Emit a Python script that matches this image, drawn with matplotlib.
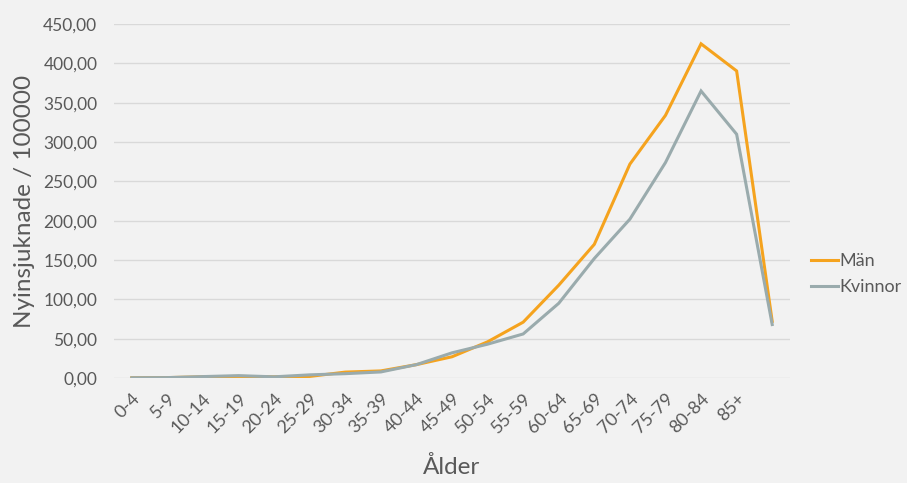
import matplotlib
matplotlib.use("Agg")
import matplotlib.pyplot as plt
from matplotlib.ticker import FuncFormatter, MultipleLocator

# Incidence per 100 000 by age group
age_groups = ["0-4", "5-9", "10-14", "15-19", "20-24", "25-29", "30-34", "35-39",
              "40-44", "45-49", "50-54", "55-59", "60-64", "65-69", "70-74",
              "75-79", "80-84", "85+", ""]
man = [0.3, 0.5, 1.5, 2.0, 1.5, 2.0, 7.5, 9.0, 17.0, 27.0, 46.0, 71.0, 118.0,
       170.0, 272.0, 334.0, 425.0, 390.5, 72.0]
kvinnor = [0.3, 0.5, 1.8, 3.0, 1.5, 4.0, 5.5, 7.7, 17.0, 32.0, 43.0, 56.0, 95.0,
           152.0, 202.0, 274.0, 365.0, 310.0, 68.0]

text_color = "#595959"
bg = "#f2f2f2"
font = ["Lato", "DejaVu Sans"]
plt.rcParams["font.family"] = font

fig = plt.figure(figsize=(9.07, 4.83), dpi=100, facecolor=bg)
ax = fig.add_axes([0.1257, 0.2174, 0.7453, 0.7326], facecolor=bg)

x = list(range(len(age_groups)))
ax.plot(x, man, color="#F5A31E", lw=2.2, label="Män", solid_joinstyle="miter")
ax.plot(x, kvinnor, color="#9AABAD", lw=2.2, label="Kvinnor", solid_joinstyle="miter")

ax.set_xlim(-0.5, len(age_groups) - 0.5)
ax.set_ylim(0, 450)
ax.yaxis.set_major_locator(MultipleLocator(50))
ax.yaxis.set_major_formatter(FuncFormatter(lambda v, p: f"{v:.2f}".replace(".", ",")))
ax.grid(axis="y", color="#d9d9d9", lw=1)
ax.set_axisbelow(True)
for s in ax.spines.values():
    s.set_visible(False)

ax.set_xticks(x)
ax.set_xticklabels(age_groups, rotation=45, ha="right", va="top",
                   rotation_mode="anchor", fontsize=13, color=text_color)
ax.tick_params(axis="both", length=0, colors=text_color)
ax.tick_params(axis="y", labelsize=12.5, pad=12)
ax.tick_params(axis="x", pad=9)

ax.set_ylabel("Nyinsjuknade / 100000", fontsize=17.5, color=text_color, labelpad=6)
ax.set_xlabel("Ålder", fontsize=17.5, color=text_color, labelpad=14)

leg = ax.legend(loc="center left", bbox_to_anchor=(0.876, 0.432),
                bbox_transform=fig.transFigure, frameon=False, fontsize=13,
                handlelength=1.5, handletextpad=0.1, labelspacing=0.55)
for t in leg.get_texts():
    t.set_color(text_color)

fig.savefig("out.png", dpi=100, facecolor=bg)
